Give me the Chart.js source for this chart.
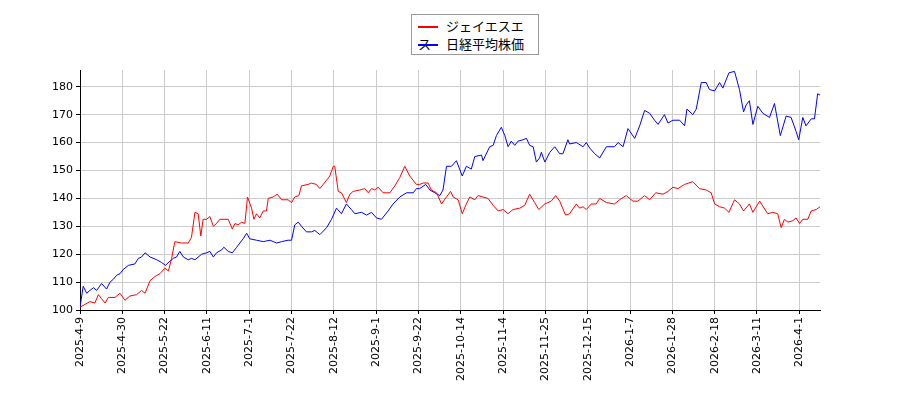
<!DOCTYPE html>
<html>
<head>
<meta charset="utf-8">
<script src="https://cdn.jsdelivr.net/npm/chart.js@4/dist/chart.umd.min.js"></script>
<style>
body { margin: 0; background: #fff; }
#wrap { position: relative; width: 900px; height: 400px; }
#legend { position: absolute; left: 411px; top: 14px; width: 128px; height: 41px; border: 1px solid #999; background: #fff;
  font-family: "Noto Sans CJK JP", "DejaVu Sans"; font-size: 13px; box-sizing: border-box; padding: 2px 6px; }
#legend div { height: 18px; line-height: 18px; }
#legend span { display: inline-block; width: 20px; height: 0; border-top: 2px solid; vertical-align: middle; margin-right: 8px; }
</style>
</head>
<body>
<div id="wrap">
<canvas id="stockChart" width="900" height="400"></canvas>
<div id="legend">
  <div><span style="border-color:red"></span>ジェイエスエス</div>
  <div><span style="border-color:blue"></span>日経平均株価</div>
</div>
</div>
<script>
// x = trading-day index from 2025-4-9
const xTickLabels = ['2025-4-9', '2025-4-30', '2025-5-22', '2025-6-11', '2025-7-1', '2025-7-22', '2025-8-12', '2025-9-1', '2025-9-22',
    '2025-10-14', '2025-11-4', '2025-11-25', '2025-12-15', '2026-1-7', '2026-1-28', '2026-2-18', '2026-3-11', '2026-4-1'];
const tickStep = 14.5;
const yTicks = [100, 110, 120, 130, 140, 150, 160, 170, 180];

const jssIdx = [0, 1.7, 3.4, 5.1, 6.3, 7.4, 8.6, 9.7, 12, 13.7, 15.4, 17.1, 19.4, 21.1, 22.3, 24, 25.7, 27.4, 29.1, 30.3, 31.4, 32.5, 34.8, 37.1, 38.2, 39.4, 40.5, 41.4, 42.2, 43.4, 44.5, 45.7, 46.8, 47.9, 50.8, 52.2, 53.1, 54.2, 55.4, 56.5, 57.4, 58.8, 59.6, 60.5, 61.6, 62.8, 63.9, 64.5, 66.2, 67.6, 69.1, 71.3, 72.5, 73.6, 75, 75.9, 78.2, 79.3, 81,
    82.2, 84.5, 85.6, 86.8, 87.3, 88.5, 89.6, 91.3, 92.5, 93.6, 95.9, 97.6, 98.8, 99.9, 101, 102.2, 103.9, 106.2, 107.9, 109.6, 111.3, 113, 115.3, 116.4, 117.6, 119.3, 120.4, 122.2, 123.9, 125.6, 127, 127.9, 129.6, 131, 132.4, 133.6, 135.3, 136.4, 138.1, 139.8, 141.6, 143.3, 145, 146.7, 148.4, 150.7, 152.4, 154.1, 155.8, 157.2, 159.3, 161.5, 163, 164.4, 166.4,
    167.8, 170.1, 171.2, 172.4, 173.5, 175.2, 176.9, 178.1, 180.4, 183.2, 184.9, 187.2, 189.5, 191.2, 193.5, 195.2, 197.3, 199.8, 201.5, 203.2, 204.9, 207.2, 210, 212.3, 214.6, 216.3, 217.5, 219.2, 220.9, 222.4, 224.3, 226, 227.4, 229.4, 230.6, 232.9, 235.7, 237.4, 239.1, 240.3, 241.4, 242.6, 244.3, 245.4, 246.6, 247.7, 249.4, 250.6, 252.3, 253.6];
const jssVal = [101, 102, 103, 102.5, 105.5, 104, 102.5, 104.5, 104.5, 106, 103.5, 105, 105.5, 107, 106, 110.5, 112, 113, 115, 114, 118.5, 124.5, 124, 124, 126, 135, 134.5, 126.5, 132.5, 132.5, 133.5, 130, 131, 132.5, 132.5, 129, 131, 130.5, 131.5, 131, 140.5, 136.5, 132.5, 134.5, 133, 135.5, 135.5, 140, 140.5, 141.5, 139.5, 139.5, 138.5, 140.5, 141, 144.5, 145, 145.5, 145,
    143.5, 146.5, 148, 151.5, 151.5, 142.5, 142, 138.5, 141.5, 142.5, 143, 143.5, 142, 143.5, 143, 144, 142, 142, 144.5, 147.5, 151.5, 148, 145, 145, 145.5, 145.5, 143, 142, 138, 140.5, 142.5, 140.5, 139.5, 134.5, 138, 140.5, 139.5, 141, 140.5, 140, 137.5, 135.5, 136, 134.5, 136, 136.5, 137.5, 141.5, 138.5, 136, 138, 139, 141, 139, 134,
    134.5, 138, 136.5, 137, 136, 138, 138, 140, 138.5, 138, 139.5, 141, 139, 139, 141, 139.5, 142, 141.5, 142.5, 144, 143.5, 145, 146, 143.5, 143, 142, 138, 137, 136.5, 135, 139.5, 138, 135.5, 138, 135, 139, 134.5, 135, 134.5, 129.5, 132.5, 131.5, 132, 133, 131, 132.5, 132.5, 135.5, 136, 137];

const nikkeiIdx = [0, 1.1, 2.3, 3.4, 4.6, 5.7, 7.4, 9.1, 10.3, 11.4, 12.6, 13.7, 14.8, 16.6, 18.8, 20, 21.1, 22.3, 24, 26.3, 28, 29.3, 30.8, 32, 33.1, 34.2, 35.4, 37.1, 38.2, 39.4, 41.7, 43.4, 44.5, 45.7, 46.8, 48.5, 49.3, 50.8, 52.2, 53.7, 54.8, 55.9, 57.1, 58.2, 60.5, 62.8, 65.1, 67.4, 69.1, 71.3, 72.5, 73.6, 74.8, 75.9, 77.6, 79.3, 80.5,
    82.2, 84.5, 86.2, 87.9, 89.6, 91.3, 93, 94.2, 96.5, 98.2, 99.9, 101.6, 103.3, 105.6, 107.3, 109.6, 111.9, 114.2, 115.3, 116.4, 118.5, 119.9, 121.6, 123.3, 124.4, 125.6, 127.3, 129, 131, 132.4, 134.1, 135.3, 137.6, 138.1, 140.4, 141.6, 142.7, 144.4, 145.6, 146.7, 147.8, 149, 150.1, 151.8, 153, 154.1, 155.3, 156.4, 157.5, 158.1, 159.3, 161, 162.7, 164.4, 165.5, 167.2,
    167.8, 170.1, 172.4, 173.5, 174.7, 176.4, 178.1, 180.4, 183.2, 184.4, 186.1, 187.8, 190.1, 191.8, 193.5, 195.2, 196.9, 198.1, 200.3, 201.5, 203.2, 205.5, 207.2, 208, 210, 211.2, 212.9, 214.6, 215.7, 217.5, 219.2, 220.3, 222.4, 224.3, 226, 227.4, 228.3, 229.4, 230.6, 232.3, 234, 236.3, 238, 240, 242, 243.7, 245.4, 246.3, 247.7, 248.8, 250.6, 251.7, 252.8, 253.6];
const nikkeiVal = [101, 108.5, 106, 107, 108, 107, 109.5, 107.5, 110, 111, 112.5, 113, 114.5, 116, 116.5, 118.5, 119, 120.5, 119, 118, 117, 116, 117.5, 118.5, 119, 121, 119, 118, 118.5, 118, 120, 120.5, 121, 119, 120.5, 121.5, 122.5, 121, 120.5, 122.5, 124, 125.5, 127.5, 125.5, 125, 124.5, 125, 124, 124.5, 125, 125, 130.5, 131.5, 130, 128, 128, 128.5,
    127, 129.5, 132.5, 136.5, 134.5, 138, 136, 134.5, 135, 134, 135, 133, 132.5, 135.5, 138, 140.5, 142, 142, 143.5, 143.5, 145, 143, 142, 141, 143, 151.5, 151.5, 153.5, 148, 151.5, 150.5, 155, 155.5, 153.5, 158.5, 159, 162.5, 165.5, 162.5, 158.5, 160.5, 159, 160.5, 161, 161.5, 159, 158.5, 153, 154.5, 156.5, 153, 156.5, 158.5, 156, 156, 161,
    159.5, 160, 158.5, 160, 158, 156, 154.5, 158.5, 158.5, 160, 158.5, 165, 161.5, 166, 171.5, 170.5, 168, 166.5, 170, 167, 168, 168, 166, 172, 170, 172, 181.5, 181.5, 179, 178.5, 181.5, 179.5, 185, 185.5, 179, 171, 173.5, 175, 166.5, 173, 170.5, 169, 174, 162.5, 169.5, 169, 164, 161, 169, 166, 168.5, 168.5, 177.5, 177];

function toPoints(xs, ys) {
    return xs.map((x, i) => ({ x: x, y: ys[i] }));
}

const font = { family: 'DejaVu Sans', size: 11 };
const stockChart = document.getElementById('stockChart');
new Chart(stockChart, {
    type: 'line',
    data: {
        datasets: [{
            label: 'ジェイエスエス',
            data: toPoints(jssIdx, jssVal),
            borderColor: 'red',
            borderWidth: 1,
            pointRadius: 0,
            tension: 0
        }, {
            label: '日経平均株価',
            data: toPoints(nikkeiIdx, nikkeiVal),
            borderColor: 'blue',
            borderWidth: 1,
            pointRadius: 0,
            tension: 0
        }]
    },
    options: {
        responsive: false,
        animation: false,
        layout: { padding: { top: 70, right: 80, left: 0, bottom: 0 } },
        plugins: { legend: { display: false }, tooltip: { enabled: false } },
        scales: {
            x: {
                type: 'linear',
                min: 0,
                max: 253.6,
                afterBuildTicks: axis => {
                    axis.ticks = xTickLabels.map((l, i) => ({ value: i * tickStep }));
                },
                afterFit: s => { s.height = 90; },
                ticks: {
                    font: font,
                    color: '#000',
                    maxRotation: 90,
                    minRotation: 90,
                    autoSkip: false,
                    callback: (v, i) => xTickLabels[i]
                },
                grid: { color: '#cccccc', tickColor: '#000', tickLength: 4 },
                border: { color: '#000' }
            },
            y: {
                min: 100,
                max: 186,
                afterBuildTicks: axis => {
                    axis.ticks = yTicks.map(v => ({ value: v }));
                },
                afterFit: s => { s.width = 80; },
                ticks: { font: font, color: '#000', autoSkip: false },
                grid: { color: '#cccccc', tickColor: '#000', tickLength: 4 },
                border: { color: '#000' }
            }
        }
    }
});
</script>
</body>
</html>
